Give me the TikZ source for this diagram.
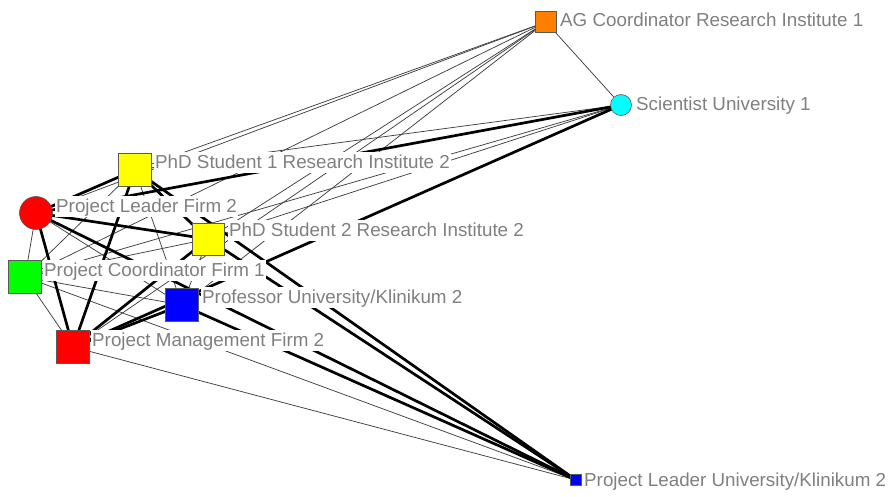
\documentclass[tikz,border=0pt]{standalone}
\usepackage{fontspec}
\setmainfont{Liberation Sans}
\pgfdeclarelayer{edges}
\pgfdeclarelayer{labels}
\pgfsetlayers{edges,labels,main}
\definecolor{lblgray}{RGB}{128,128,128}
\definecolor{nodeline}{RGB}{90,90,90}
\definecolor{orangeA}{RGB}{255,128,0}
\definecolor{cyanS}{RGB}{0,255,255}
\definecolor{redN}{RGB}{255,0,0}
\definecolor{yellowN}{RGB}{255,255,0}
\definecolor{greenN}{RGB}{0,255,0}
\definecolor{blueN}{RGB}{0,0,255}
\tikzset{
  sq/.style={draw=nodeline, line width=0.6pt, rectangle, inner sep=0pt, minimum size=#1},
  rd/.style={draw=nodeline, line width=0.6pt, circle, inner sep=0pt, minimum size=#1},
  lbl/.style={anchor=base west, fill=white, text=lblgray, inner xsep=1pt, inner ysep=0.5pt,
     text height=16pt, text depth=4pt, font=\fontsize{18.8}{22}\selectfont},
  thin/.style={draw=black!75, line width=0.75pt},
  thick/.style={draw=black, line width=2.7pt}
}
\begin{document}
\begin{tikzpicture}[x=1pt,y=-1pt]
\useasboundingbox (0,0) rectangle (888,497);
% nodes
\node[sq=21, fill=orangeA] (A) at (546,22) {};
\node[rd=21, fill=cyanS] (S) at (621,105) {};
\node[sq=33, fill=yellowN] (P1) at (135,170) {};
\node[rd=33, fill=redN] (L) at (36,213) {};
\node[sq=32, fill=yellowN] (P2) at (208,239) {};
\node[sq=33, fill=greenN] (C) at (25,277) {};
\node[sq=33, fill=blueN] (F) at (182,305) {};
\node[sq=33, fill=redN] (M) at (73,347) {};
\node[sq=11, fill=blueN] (K) at (576,480) {};
% labels
\begin{pgfonlayer}{labels}
\node[lbl] (Al) at (559,27) {AG Coordinator Research Institute 1};
\node[lbl] (Sl) at (635,111) {Scientist University 1};
\node[lbl] (P1l) at (154,169) {PhD Student 1 Research Institute 2};
\node[lbl] (Ll) at (55,212) {Project Leader Firm 2};
\node[lbl] (P2l) at (228,236) {PhD Student 2 Research Institute 2};
\node[lbl] (Cl) at (43,276) {Project Coordinator Firm 1};
\node[lbl] (Fl) at (201,303) {Professor University/Klinikum 2};
\node[lbl] (Ml) at (91,346) {Project Management Firm 2};
\node[lbl] (Kl) at (583,486) {Project Leader University/Klinikum 2};
\end{pgfonlayer}
% edges
\begin{pgfonlayer}{edges}
\foreach \a/\b in {A/S, A/P1, A/L, A/C, A/P2, A/M, A/F, S/P1, S/C, S/P2, K/M, K/C, L/C, C/M, C/F, C/P2, C/P1, P2/F, P1/F, L/F}
  \draw[thin] (\a.center) -- (\b.center);
\foreach \a/\b in {S/L, S/M, K/F, K/L, K/P2, K/P1, L/P2, L/M, L/P1, P1/M, P1/P2, P2/M, M/F}
  \draw[thick] (\a.center) -- (\b.center);
\end{pgfonlayer}
\end{tikzpicture}
\end{document}
